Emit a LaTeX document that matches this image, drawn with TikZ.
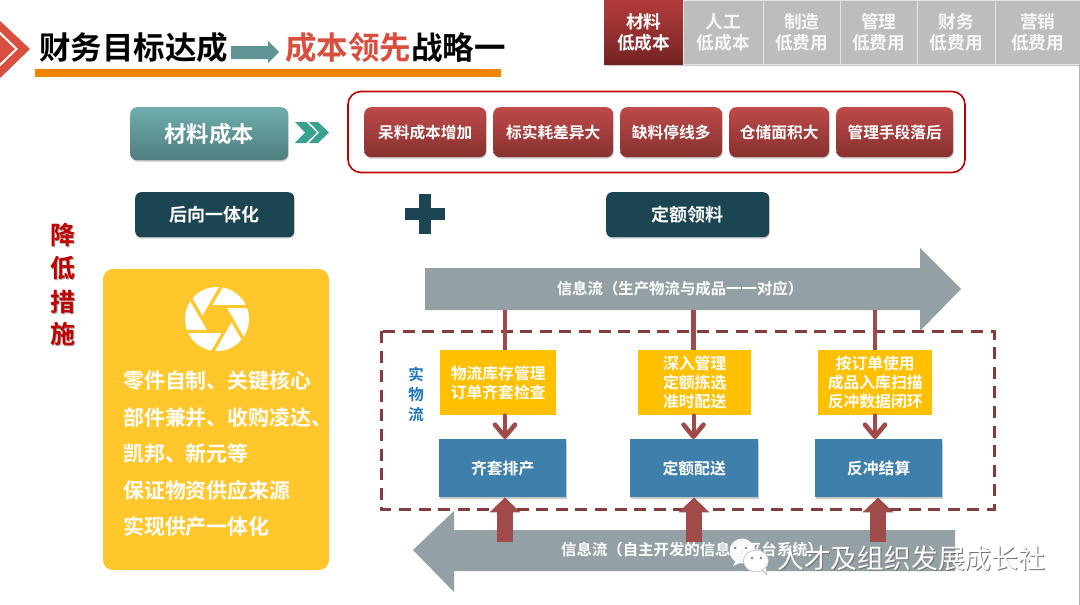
\documentclass[tikz,border=0pt]{standalone}
\usepackage{fontspec}
\setmainfont{Noto Sans CJK SC}[BoldFont={* Bold}]
\usetikzlibrary{arrows.meta,shadows,calc}
\definecolor{tealA}{HTML}{6FAEAD}
\definecolor{tealB}{HTML}{507D7F}
\definecolor{redA}{HTML}{BD4A49}
\definecolor{redB}{HTML}{873130}
\definecolor{tabA}{HTML}{B33C3B}
\definecolor{tabB}{HTML}{742323}
\definecolor{tabGray}{HTML}{BDBDBD}
\definecolor{darkTeal}{HTML}{1B4552}
\definecolor{chev}{HTML}{3AA08F}
\definecolor{panel}{HTML}{FFC72C}
\definecolor{yellowBox}{HTML}{FFC000}
\definecolor{blueBox}{HTML}{3F7FAB}
\definecolor{flowGray}{HTML}{93A0A5}
\definecolor{maroon}{HTML}{A04A4A}
\definecolor{dashCol}{HTML}{843C3C}
\definecolor{titleRed}{HTML}{D84F3F}
\definecolor{barOrange}{HTML}{F08300}
\definecolor{arrowTeal}{HTML}{5E9494}
\definecolor{crimson}{HTML}{C00000}
\definecolor{flowBlue}{HTML}{1C75BC}
\tikzset{
  x=1pt,y=-1pt,
  softshadow/.style={drop shadow={shadow xshift=0.5pt,shadow yshift=-1.4pt,opacity=0.22,fill=black}},
  box/.style={anchor=north west,inner sep=0pt,align=center,font=\bfseries,text=white},
  redbtn/.style={box,rounded corners=7pt,softshadow,top color=redA,bottom color=redB,font=\fontsize{15.7}{18}\selectfont\bfseries},
  tealbtn/.style={box,rounded corners=7pt,softshadow,top color=tealA,bottom color=tealB,font=\fontsize{22.3}{26}\selectfont\bfseries},
  darkbtn/.style={box,rounded corners=6pt,softshadow,fill=darkTeal,font=\fontsize{18}{21}\selectfont\bfseries},
  tabred/.style={box,softshadow,top color=tabA,bottom color=tabB,font=\fontsize{17.7}{21.5}\selectfont\bfseries},
  tabgray/.style={box,softshadow,fill=tabGray,text=white!97!black,draw=white!90!black,line width=0.6pt,font=\fontsize{17.7}{21.5}\selectfont\bfseries},
  ybox/.style={box,fill=yellowBox,font=\fontsize{15.8}{19.2}\selectfont\bfseries},
  bbox/.style={box,softshadow,fill=blueBox,font=\fontsize{15.8}{19}\selectfont\bfseries},
  flowtext/.style={inner sep=0pt,text=white,font=\fontsize{15.4}{18}\selectfont\bfseries},
  paneltext/.style={anchor=west,inner sep=0pt,text=white,font=\fontsize{20.9}{24}\selectfont\bfseries},
  titletext/.style={anchor=west,inner sep=0pt,font=\fontsize{31.5}{36}\selectfont\bfseries},
  sidetext/.style={inner sep=0pt,text=crimson,font=\fontsize{25}{28}\selectfont\bfseries},
  wlshadow/.style={inner sep=0pt,text=black!55,font=\fontsize{26.8}{30}\selectfont},
  wltext/.style={inner sep=0pt,text=white,font=\fontsize{26.8}{30}\selectfont},
  feed/.style={draw=maroon,line width=4.5pt},
  feedarrow/.style={draw=maroon,line width=4pt,line cap=round,-{Straight Barb[round,length=12pt,width=20pt,line width=4.6pt]}},
  uparrow/.style={draw=maroon,line width=15.5pt,-{Triangle[width=30pt,length=15pt]}},
}
\begin{document}
\begin{tikzpicture}
\useasboundingbox (0,0) rectangle (1080,605);
\fill[white] (0,0) rectangle (1080,605);
\draw[black!30,line width=1pt] (1079.5,64) -- (1079.5,605);
% header mark
\fill[titleRed] (-1,20) -- (30,49) -- (-1,79) -- cycle;
\draw[white,line width=2pt] (-1,32) -- (16.5,49) -- (-1,66);
% title
\fill[barOrange] (35,69) rectangle (501,77);
\node[titletext] (title1) at (39,48) {财务目标达成};
\node[titletext,text=titleRed] (title2) at (285,48) {成本领先};
\node[titletext] (title3) at (411,48) {战略一};
\fill[arrowTeal] (231,46) -- (268,46) -- (268,41) -- (279,52) -- (268,63) -- (268,59) -- (231,59) -- cycle;
% tabs
\node[tabred,minimum width=79pt,minimum height=64pt] (tab1) at (604,0) {材料\\低成本};
\node[tabgray,minimum width=80pt,minimum height=64pt] (tab2) at (683,0) {人工\\低成本};
\node[tabgray,minimum width=77pt,minimum height=64pt] (tab3) at (763,0) {制造\\低费用};
\node[tabgray,minimum width=77pt,minimum height=64pt] (tab4) at (840,0) {管理\\低费用};
\node[tabgray,minimum width=78pt,minimum height=64pt] (tab5) at (917,0) {财务\\低费用};
\node[tabgray,minimum width=85pt,minimum height=64pt] (tab6) at (995,0) {营销\\低费用};
% top row
\node[tealbtn,minimum width=158pt,minimum height=53pt] (material) at (130,107) {材料成本};
\fill[chev] (295,122) -- (306,122) -- (317,132.5) -- (306,143) -- (295,143) -- (305,132.5) -- cycle;
\fill[chev] (309,122) -- (318,122) -- (329,132.5) -- (318,143) -- (309,143) -- (319,132.5) -- cycle;
\draw[crimson,line width=1.6pt,rounded corners=13pt] (348,91.5) rectangle (965,172.5);
\node[redbtn,minimum width=122pt,minimum height=50pt] (p1) at (364,107) {呆料成本增加};
\node[redbtn,minimum width=120pt,minimum height=50pt] (p2) at (493,107) {标实耗差异大};
\node[redbtn,minimum width=102pt,minimum height=50pt] (p3) at (620,107) {缺料停线多};
\node[redbtn,minimum width=100pt,minimum height=50pt] (p4) at (729,107) {仓储面积大};
\node[redbtn,minimum width=117pt,minimum height=50pt] (p5) at (836,107) {管理手段落后};
% second row
\node[darkbtn,minimum width=159pt,minimum height=45pt] (back) at (135,192) {后向一体化};
\node[darkbtn,minimum width=163pt,minimum height=45pt] (quota) at (606,192) {定额领料};
\fill[darkTeal] (419,194) rectangle (431,234);
\fill[darkTeal] (405,208) rectangle (445,220);
% side label
\foreach \c/\yy/\nm in {降/235/s1,低/268/s2,措/302/s3,施/334/s4}{
  \node[sidetext,text=black!35] at (64,\yy+1) {\c};
  \node[sidetext] (\nm) at (63,\yy) {\c};
}
% panel
\fill[panel,rounded corners=10pt] (103,269) rectangle (329,570);
\fill[white] (217,319) circle (32);
\begin{scope}[shift={(217,319)}]
\clip (0,0) circle (32.5);
\fill[panel] (0:14.5) -- (60:14.5) -- (120:14.5) -- (180:14.5) -- (240:14.5) -- (300:14.5) -- cycle;
\foreach \a in {0,60,...,300}{
  \draw[panel,line width=3.2pt] (\a:14.5) -- ++(\a+120:50);
}
\end{scope}
\node[paneltext] (pt1) at (123,381) {零件自制、关键核心};
\node[paneltext] (pt2) at (123,418) {部件兼并、收购凌达、};
\node[paneltext] (pt3) at (123,454) {凯邦、新元等};
\node[paneltext] (pt4) at (123,491) {保证物资供应来源};
\node[paneltext] (pt5) at (123,527) {实现供产一体化};
% top flow arrow
\fill[flowGray] (425,268) -- (920,268) -- (920,248) -- (961,289) -- (920,331) -- (920,310) -- (425,310) -- cycle;
\node[flowtext] (topflow) at (680,289) {信息流（生产物流与成品一一对应）};
\coordinate (t1) at (505,310);
\coordinate (t2) at (693.5,310);
\coordinate (t3) at (875,310);
% bottom flow arrow
\fill[flowGray] (955,530) -- (454,530) -- (454,511) -- (413,550) -- (454,592) -- (454,571) -- (955,571) -- cycle;
\node[flowtext,anchor=west] (botflow) at (561,550) {信息流（自主开发的信息化平台系统）};
\coordinate (u1) at (505,542);
\coordinate (u2) at (694,542);
\coordinate (u3) at (878,542);
% physical flow frame
\draw[dashCol,line width=3pt,dash pattern=on 12pt off 7.6pt] (381,331) rectangle (994,509);
\node[inner sep=0pt,text=flowBlue,font=\fontsize{15.5}{20}\selectfont\bfseries,align=center] (phys) at (416,394) {实\\物\\流};
\node[ybox,minimum width=116pt,minimum height=65pt] (y1) at (440,350) {物流库存管理\\订单齐套检查};
\node[ybox,minimum width=113pt,minimum height=65pt] (y2) at (638,350) {深入管理\\定额拣选\\准时配送};
\node[ybox,minimum width=114pt,minimum height=65pt] (y3) at (818,350) {按订单使用\\成品入库扫描\\反冲数据闭环};
\node[bbox,minimum width=127pt,minimum height=58pt] (b1) at (439,439) {齐套排产};
\node[bbox,minimum width=128pt,minimum height=58pt] (b2) at (630,439) {定额配送};
\node[bbox,minimum width=127pt,minimum height=58pt] (b3) at (815,439) {反冲结算};
% connectors
\draw[feed] (t1) -- (y1.north -| t1);
\draw[feed] (t2) -- (y2.north -| t2);
\draw[feed] (t3) -- (y3.north -| t3);
\draw[feedarrow] (y1.south -| t1) -- (b1.north -| t1);
\draw[feedarrow] (y2.south -| t2) -- (b2.north -| t2);
\draw[feedarrow] (y3.south -| t3) -- (b3.north -| t3);
\draw[uparrow] (u1) -- (b1.south -| u1);
\draw[uparrow] (u2) -- (b2.south -| u2);
\draw[uparrow] (u3) -- (b3.south -| u3);
% watermark
\begin{scope}[shift={(742,551)}]
\fill[white,opacity=.92] (0,0) circle (12.5);
\fill[white,opacity=.92] (-6,9) -- (-9,15) -- (0,11) -- cycle;
\fill[black!45] (-7,-3) circle (1.3) (4,-3) circle (1.3);
\end{scope}
\begin{scope}[shift={(756,561)}]
\fill[white,draw=black!30,line width=0.5pt] (0,0) ellipse (12.5 and 11);
\fill[white,draw=black!30,line width=0.5pt] (6,9) -- (11,14) -- (10,6) -- cycle;
\fill[black!50] (-4,-3) circle (1.3) (5,-3) circle (1.3);
\end{scope}
\node[wlshadow,anchor=west] at (778,559) {人才及组织发展成长社};
\node[wltext,anchor=west] (mark) at (777,558) {人才及组织发展成长社};
\end{tikzpicture}
\end{document}
